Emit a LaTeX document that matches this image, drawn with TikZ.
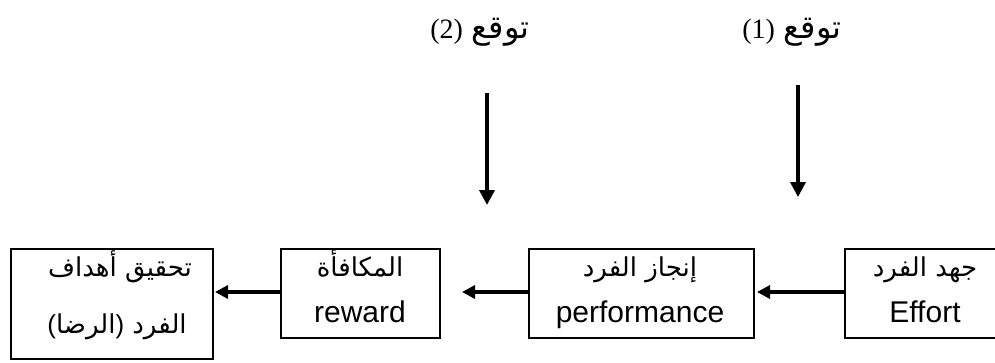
\documentclass[tikz,border=0pt]{standalone}
\usepackage{fontspec}
\setmainfont{Liberation Sans}
\newfontfamily\arabicfont[Script=Arabic]{DejaVu Sans}
\newfontfamily\seriffont{Liberation Serif}
\TeXXeTstate=1
\usetikzlibrary{arrows.meta}
\newcommand\rtl[1]{\beginR #1\endR}
\begin{document}
\begin{tikzpicture}[x=1bp,y=-1bp,
  box/.style={draw,line width=1.6bp,inner sep=0,anchor=north west},
  latin/.style={font=\fontsize{30bp}{34bp}\selectfont,inner sep=0,anchor=base},
  arab/.style={font=\arabicfont\fontsize{26bp}{30bp}\selectfont,inner sep=0,anchor=base},
  lbl/.style={inner sep=0,anchor=base},
  flow/.style={line width=3.5bp,-{Triangle[length=13bp,width=13bp]}},
  drop/.style={line width=3.5bp,-{Triangle[length=15bp,width=15bp]}},
]
\useasboundingbox (0,0) rectangle (995,362);
\clip (0,0) rectangle (995,362);

% boxes
\node[box,minimum width=202bp,minimum height=110bp] (goal) at (10,248) {};
\node[box,minimum width=159bp,minimum height=89bp] (reward) at (280,248) {};
\node[box,minimum width=225bp,minimum height=89bp] (perf) at (528,248) {};
\node[box,minimum width=162bp,minimum height=89bp] (effort) at (844,248) {};

% box texts (placed on their baselines)
\node[arab] (goalA) at (120,276) {\rtl{تحقيق أهداف}};
\node[arab] (goalB) at (117,333) {{\rmfamily(}\rtl{الرضا}{\rmfamily)}\ \rtl{الفرد}};
\node[arab] (rewardA) at (360,276) {\rtl{المكافأة}};
\node[latin] (rewardB) at (360,322) {reward};
\node[arab] (perfA) at (640,276) {\rtl{إنجاز الفرد}};
\node[latin] (perfB) at (640,322) {performance};
\node[arab] (effortA) at (925,276) {\rtl{جهد الفرد}};
\node[latin] (effortB) at (925,322) {Effort};

% expectancy labels
\node[lbl] (exp2) at (480,38) {{\seriffont\fontsize{28bp}{32bp}\selectfont (2)\hspace{9bp}}{\arabicfont\fontsize{32bp}{36bp}\selectfont\rtl{توقع}}};
\node[lbl] (exp1) at (792,38) {{\seriffont\fontsize{28bp}{32bp}\selectfont (1)\hspace{9bp}}{\arabicfont\fontsize{32bp}{36bp}\selectfont\rtl{توقع}}};

% flow arrows between boxes
\coordinate (t3) at (757,292);
\coordinate (t2) at (462,292);
\coordinate (t1) at (215,292);
\draw[flow] (t3 -| effort.west) -- (t3);
\draw[flow] (t2 -| perf.west) -- (t2);
\draw[flow] (t1 -| reward.west) -- (t1);

% expectancy arrows
\coordinate (e2s) at (487,93);
\coordinate (e2e) at (487,205);
\coordinate (e1s) at (798,85);
\coordinate (e1e) at (798,197);
\draw[drop] (e2s) -- (e2e);
\draw[drop] (e1s) -- (e1e);
\end{tikzpicture}
\end{document}
